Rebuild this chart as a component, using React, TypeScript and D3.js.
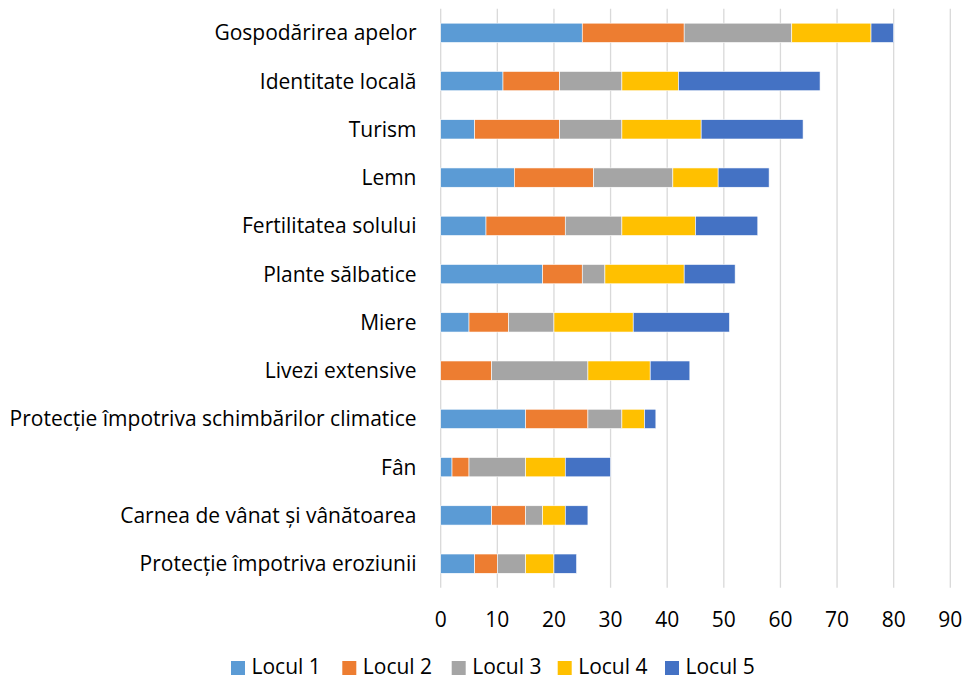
import React, { useEffect, useRef } from "react";
import * as d3 from "d3";

const categories = [
  "Gospodărirea apelor",
  "Identitate locală",
  "Turism",
  "Lemn",
  "Fertilitatea solului",
  "Plante sălbatice",
  "Miere",
  "Livezi extensive",
  "Protecție împotriva schimbărilor climatice",
  "Fân",
  "Carnea de vânat și vânătoarea",
  "Protecție împotriva eroziunii",
];

const seriesNames = ["Locul 1", "Locul 2", "Locul 3", "Locul 4", "Locul 5"];
const seriesColors = ["#5B9BD5", "#ED7D31", "#A5A5A5", "#FFC000", "#4472C4"];

const locul1 = [25, 11, 6, 13, 8, 18, 5, 0, 15, 2, 9, 6];
const locul2 = [18, 10, 15, 14, 14, 7, 7, 9, 11, 3, 6, 4];
const locul3 = [19, 11, 11, 14, 10, 4, 8, 17, 6, 10, 3, 5];
const locul4 = [14, 10, 14, 8, 13, 14, 14, 11, 4, 7, 4, 5];
const locul5 = [4, 25, 18, 9, 11, 9, 17, 7, 2, 8, 4, 4];

const xTicks = [0, 10, 20, 30, 40, 50, 60, 70, 80, 90];

const W = 965;
const H = 680;
const FONT = "'Open Sans', sans-serif";
const FS = 21;

export default function App() {
  const ref = useRef<SVGSVGElement | null>(null);

  useEffect(() => {
    document.body.style.margin = "0";
    const svg = d3.select(ref.current);
    svg.selectAll("*").remove();

    const left = 440.7;
    const right = 950.3;
    const top = 8.7;
    const bottom = 587.8;

    const x = d3.scaleLinear().domain([0, 90]).range([left, right]);
    const y = d3
      .scaleBand<string>()
      .domain(categories)
      .range([top, bottom])
      .paddingInner(0.6)
      .paddingOuter(0.3);

    const data = categories.map((c, i) => ({
      cat: c,
      "Locul 1": locul1[i],
      "Locul 2": locul2[i],
      "Locul 3": locul3[i],
      "Locul 4": locul4[i],
      "Locul 5": locul5[i],
    }));

    const stack = d3.stack<any>().keys(seriesNames);
    const stacked = stack(data);

    // gridlines
    svg
      .append("g")
      .selectAll("line")
      .data(xTicks)
      .join("line")
      .attr("x1", (d) => x(d))
      .attr("x2", (d) => x(d))
      .attr("y1", top)
      .attr("y2", bottom)
      .attr("stroke", "#D9D9D9")
      .attr("stroke-width", 1.3);

    // bars
    const g = svg.append("g");
    stacked.forEach((s, si) => {
      g.append("g")
        .attr("fill", seriesColors[si])
        .selectAll("rect")
        .data(s)
        .join("rect")
        .attr("x", (d) => x(d[0]))
        .attr("width", (d) => Math.max(0, x(d[1]) - x(d[0])))
        .attr("y", (d: any) => y(d.data.cat)!)
        .attr("height", y.bandwidth())
        .attr("stroke", "#ffffff")
        .attr("stroke-width", (d) => (d[1] - d[0] > 0 ? 0.6 : 0));
    });

    // category labels
    svg
      .append("g")
      .selectAll("text")
      .data(categories)
      .join("text")
      .attr("x", 416.5)
      .attr("y", (d) => y(d)! + y.bandwidth() / 2 + 7.5)
      .attr("text-anchor", "end")
      .attr("font-family", FONT)
      .attr("font-size", FS)
      .attr("fill", "#000")
      .text((d) => d);

    // x tick labels
    svg
      .append("g")
      .selectAll("text")
      .data(xTicks)
      .join("text")
      .attr("x", (d) => x(d))
      .attr("y", 627)
      .attr("text-anchor", "middle")
      .attr("font-family", FONT)
      .attr("font-size", FS)
      .attr("fill", "#000")
      .text((d) => String(d));

    // legend
    const legX = [231, 342.3, 451.7, 557.7, 665];
    const leg = svg
      .append("g")
      .selectAll("g")
      .data(seriesNames)
      .join("g")
      .attr("transform", (_d, i) => `translate(${legX[i]},0)`);
    leg
      .append("rect")
      .attr("x", 0)
      .attr("y", 661)
      .attr("width", 14)
      .attr("height", 14)
      .attr("fill", (_d, i) => seriesColors[i]);
    leg
      .append("text")
      .attr("x", 20.5)
      .attr("y", 673.5)
      .attr("font-family", FONT)
      .attr("font-size", FS)
      .attr("fill", "#000")
      .text((d) => d);
  }, []);

  return (
    <svg
      ref={ref}
      width={W}
      height={H}
      style={{ position: "absolute", left: 0, top: 0, background: "#fff" }}
    />
  );
}
